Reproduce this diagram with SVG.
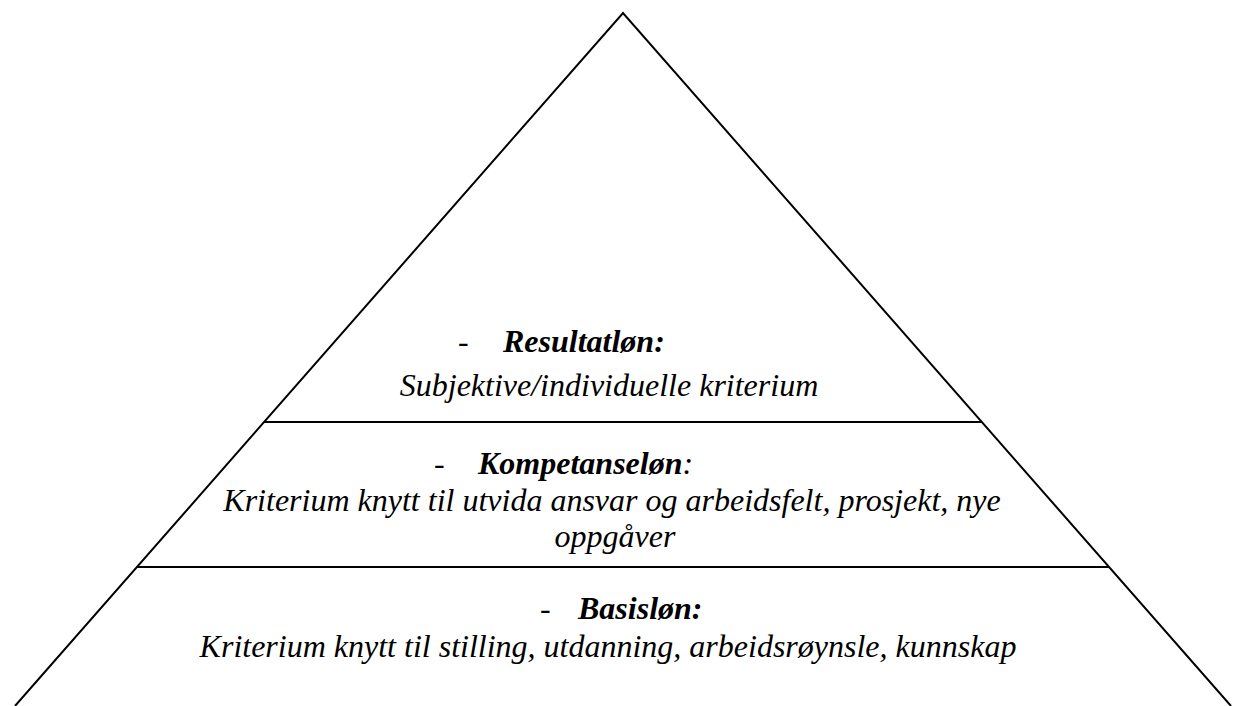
<svg xmlns="http://www.w3.org/2000/svg" width="1237" height="706" viewBox="0 0 1237 706">
<style>
.ln{stroke:#000;stroke-width:2;fill:none}
.t{font-family:"Liberation Serif","Times New Roman",serif;font-size:32px;font-style:italic;fill:#000}
.b{font-weight:bold}
.d{font-family:"Liberation Serif","Times New Roman",serif;font-size:32px;fill:#000}
</style>
<rect width="1237" height="706" fill="#fff"/>
<g id="connectors">
<path class="ln" d="M15,706 L623,13 L1231,706"/>
<line class="ln" x1="264" y1="422" x2="982" y2="422"/>
<line class="ln" x1="137" y1="567" x2="1109" y2="567"/>
</g>
<g id="resultatlon">
<text class="d" x="458" y="352">-</text>
<text class="t b" x="503" y="352">Resultatløn:</text>
<text class="t" x="609" y="396" text-anchor="middle">Subjektive/individuelle kriterium</text>
</g>
<g id="kompetanselon">
<text class="d" x="434" y="474">-</text>
<text class="t" x="478" y="474"><tspan class="b">Kompetanseløn</tspan>:</text>
<text class="t" x="612" y="511" text-anchor="middle">Kriterium knytt til utvida ansvar og arbeidsfelt, prosjekt, nye</text>
<text class="t" x="615" y="547" text-anchor="middle">oppgåver</text>
</g>
<g id="basislon">
<text class="d" x="540" y="619">-</text>
<text class="t b" x="578" y="619">Basisløn:</text>
<text class="t" x="608" y="657" text-anchor="middle">Kriterium knytt til stilling, utdanning, arbeidsrøynsle, kunnskap</text>
</g>
</svg>
